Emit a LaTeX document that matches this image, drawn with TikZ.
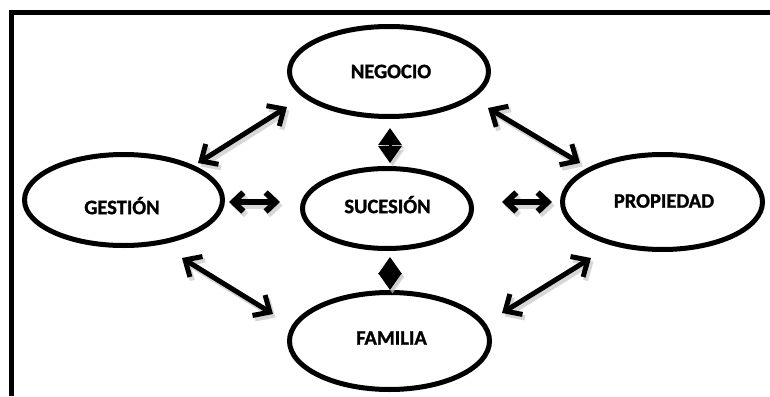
\documentclass[tikz,border=0pt]{standalone}
\usepackage{fontspec}
\setmainfont{Carlito}[BoldFeatures={FakeBold=1.2}]
\usetikzlibrary{arrows.meta,shapes.geometric}
\begin{document}
\begin{tikzpicture}[x=1pt,y=-1pt,
  ell/.style={draw, line width=5pt, ellipse, inner sep=0pt, outer sep=0pt},
  lbl/.style={font=\bfseries\fontsize{20.5}{24}\selectfont, inner sep=0pt, text height=0.63em, text depth=0pt},
  diag/.style={line width=5pt, {Straight Barb[length=13pt,width=24pt]}-{Straight Barb[length=13pt,width=24pt]}},
  horiz/.style={line width=6pt, {Straight Barb[length=10pt,width=19pt]}-{Straight Barb[length=10pt,width=19pt]}},
  vert/.style={line width=3pt, {Triangle[length=17pt,width=23pt]}-{Triangle[length=17pt,width=23pt]}},
  shd/.style={draw=black!22, opacity=0.7, transform canvas={shift={(2.5pt,-3.5pt)}}}
]
\useasboundingbox (0,0) rectangle (770,396);
\fill[white] (0,0) rectangle (770,396);
% frame
\draw[line width=5pt] (11.5,396) -- (11.5,12.5) -- (770,12.5);
% ellipses
\node[ell, minimum width=199pt, minimum height=90pt] (neg) at (389,71.5) {};
\node[ell, minimum width=198pt, minimum height=91pt] (ges) at (123.5,200) {};
\node[ell, minimum width=169pt, minimum height=80pt] (suc) at (387,208.5) {};
\node[ell, minimum width=200pt, minimum height=95pt] (pro) at (662.5,202) {};
\node[ell, minimum width=200pt, minimum height=97pt] (fam) at (389.5,341) {};
% labels
\node[lbl] (negT) at (391,75) {NEGOCIO};
\node[lbl] (gesT) at (122,211) {GESTIÓN};
\node[lbl] (sucT) at (387.5,210) {SUCESIÓN};
\node[lbl] (proT) at (664,204.5) {PROPIEDAD};
\node[lbl] (famT) at (391.5,341.5) {FAMILIA};
% arrow end points
\coordinate (a1) at (287,107); \coordinate (b1) at (198,163);
\coordinate (a2) at (488,108); \coordinate (b2) at (580,163);
\coordinate (a3) at (182,258); \coordinate (b3) at (273,314);
\coordinate (a4) at (591,258); \coordinate (b4) at (502,313);
\coordinate (h1) at (229,202); \coordinate (k1) at (280,202);
\coordinate (h2) at (502,202); \coordinate (k2) at (552,202);
\coordinate (v1) at (390,128); \coordinate (w1) at (390,163);
\coordinate (v2) at (390,257); \coordinate (w2) at (390,290);
% shadows
\draw[diag,shd] (a1) -- (b1);
\draw[diag,shd] (a2) -- (b2);
\draw[diag,shd] (a3) -- (b3);
\draw[diag,shd] (a4) -- (b4);
\draw[horiz,shd] (h1) -- (k1);
\draw[horiz,shd] (h2) -- (k2);
\draw[vert,shd,fill=black!22] (v1) -- (w1);
\draw[vert,shd,fill=black!22] (v2) -- (w2);
% arrows
\draw[diag] (a1) -- (b1);
\draw[diag] (a2) -- (b2);
\draw[diag] (a3) -- (b3);
\draw[diag] (a4) -- (b4);
\draw[horiz] (h1) -- (k1);
\draw[horiz] (h2) -- (k2);
\draw[vert] (v1) -- (w1);
\draw[vert] (v2) -- (w2);
\end{tikzpicture}
\end{document}
